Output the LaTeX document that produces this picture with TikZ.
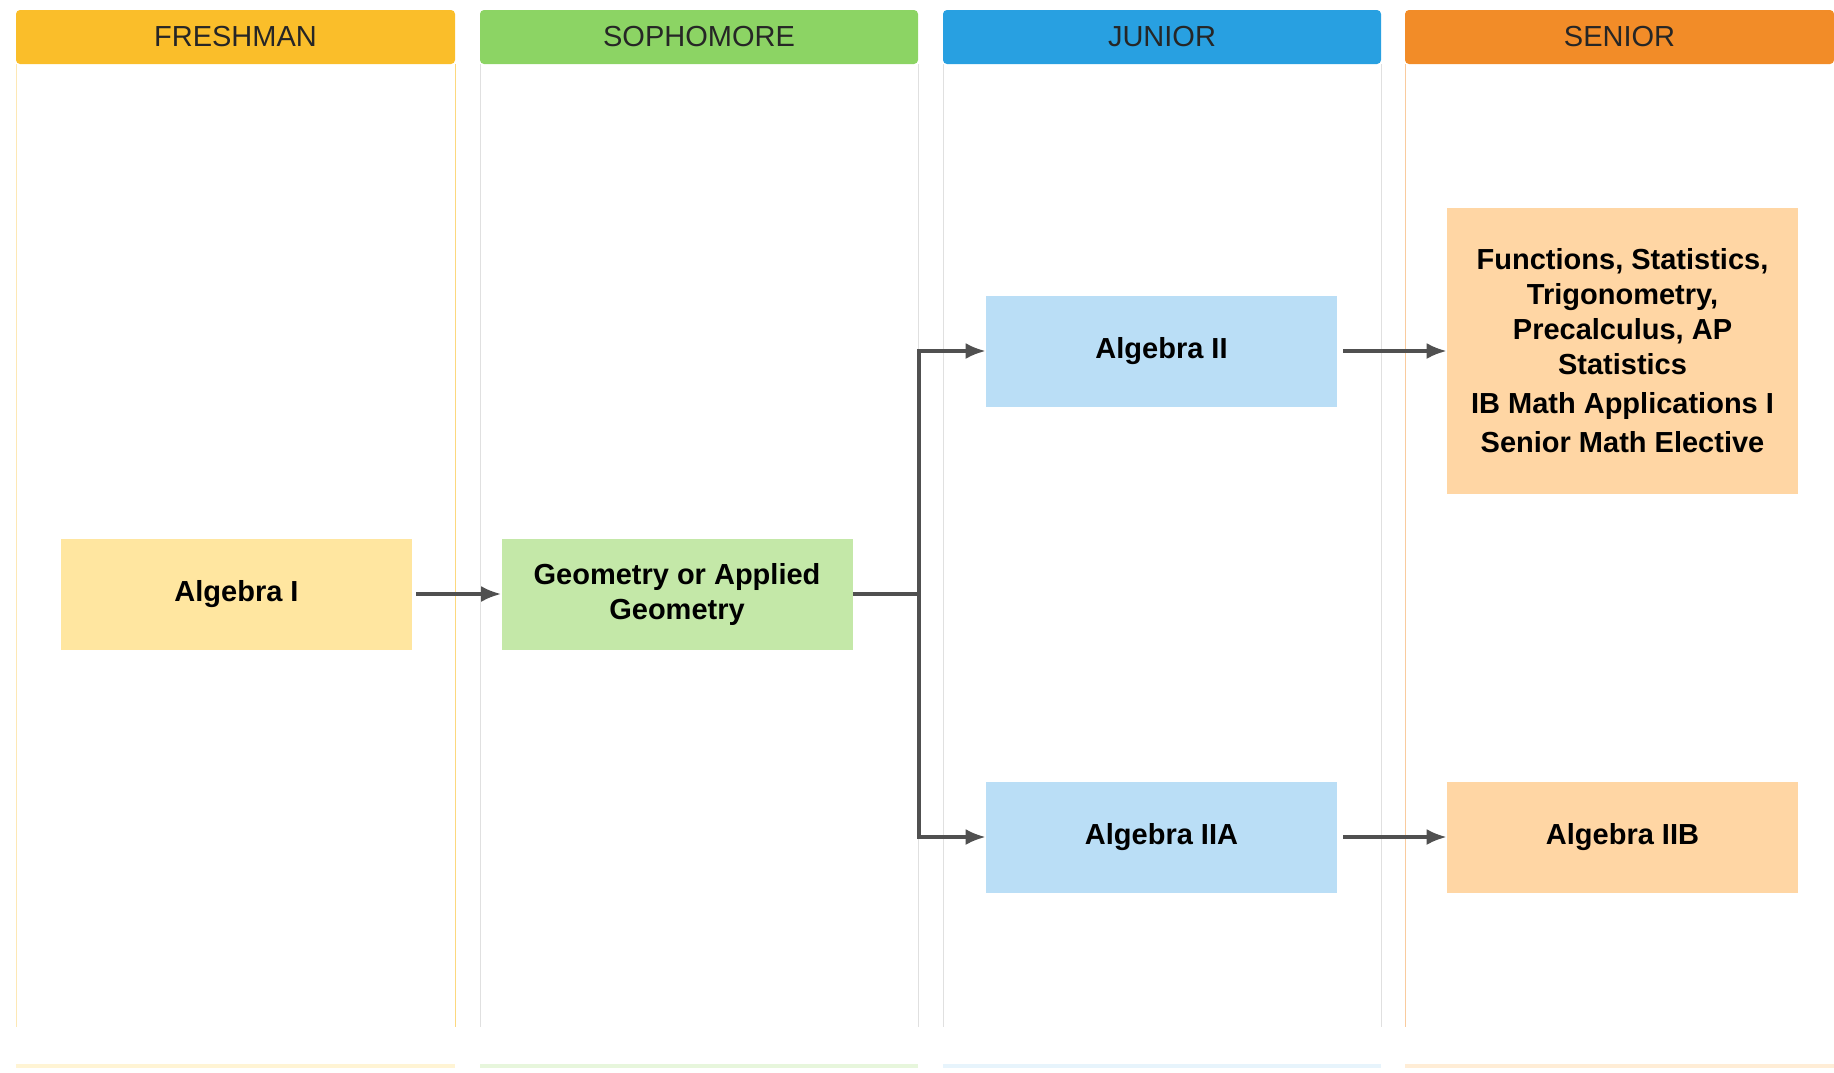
\documentclass[tikz,border=0pt]{standalone}
\usepackage{fontspec}
\setmainfont{Liberation Sans}
\usetikzlibrary{arrows.meta}
\definecolor{freshcol}{RGB}{250, 190, 42}
\definecolor{sophcol}{RGB}{140, 212, 100}
\definecolor{juncol}{RGB}{40, 160, 225}
\definecolor{sencol}{RGB}{242, 140, 40}
\definecolor{freshbox}{RGB}{255, 230, 160}
\definecolor{sophbox}{RGB}{196, 232, 168}
\definecolor{junbox}{RGB}{186, 222, 246}
\definecolor{senbox}{RGB}{255, 214, 164}
\definecolor{linkcol}{RGB}{80, 80, 80}

\begin{document}
\begin{tikzpicture}[x = 0.5pt, y = -0.5pt,
  header/.style = {minimum height = 27pt, inner sep = 0pt, font = \fontsize{14.5}{17}\selectfont, text = black!85},
  course/.style = {minimum width = 175.5pt, minimum height = 55.5pt, inner sep = 2pt, align = center, font = \bfseries\fontsize{14.5}{17.5}\selectfont},
  link/.style = {line width = 1.6pt, linkcol, -{Latex[length = 10pt, width = 8pt]}},
  lane/.style = {line width = 0.5pt}]

\useasboundingbox (0, 0) rectangle (1834, 1072);

\draw [lane, freshcol!35] (16, 64) -- (16, 1027);
\draw [lane, freshcol!60] (455, 64) -- (455, 1027);
\draw [lane, black!12] (480, 64) -- (480, 1027);
\draw [lane, black!12] (918, 64) -- (918, 1027);
\draw [lane, black!12] (943, 64) -- (943, 1027);
\draw [lane, black!12] (1381, 64) -- (1381, 1027);
\draw [lane, sencol!45] (1405, 64) -- (1405, 1027);
\draw [line width = 2pt, freshbox!45] (16, 1066) -- (455, 1066);
\draw [line width = 2pt, sophbox!40] (480, 1066) -- (918, 1066);
\draw [line width = 2pt, junbox!35] (943, 1066) -- (1381, 1066);
\draw [line width = 2pt, senbox!45] (1405, 1066) -- (1834, 1066);

\node [header, fill = freshcol, minimum width = 219.5pt, rounded corners = 2pt] (fresh) at (235.5, 37) {FRESHMAN};
\node [header, fill = sophcol, minimum width = 219pt, rounded corners = 2pt] (soph) at (699, 37) {SOPHOMORE};
\node [header, fill = juncol, minimum width = 219pt, rounded corners = 2pt] (jun) at (1162, 37) {JUNIOR};
\node [header, fill = sencol, minimum width = 214.5pt, rounded corners = 2pt] (sen) at (1619.5, 37) {SENIOR};

\node [course, fill = freshbox] (alg1) at (236.5, 594) {Algebra I};
\node [course, fill = sophbox] (geo) at (677, 594) {Geometry or Applied\\Geometry};
\node [course, fill = junbox] (alg2) at (1161.5, 351) {Algebra II};
\node [course, fill = junbox] (alg2a) at (1161.5, 837) {Algebra IIA};
\node [course, fill = senbox, minimum height = 143pt] (func) at (1622.5, 351)
  {Functions, Statistics,\\Trigonometry,\\Precalculus, AP\\Statistics\\[2pt]IB Math Applications I\\[2pt]Senior Math Elective};
\node [course, fill = senbox] (alg2b) at (1622.5, 837) {Algebra IIB};

\coordinate (split) at (919, 594);
\draw [link, shorten <= 2pt] (alg1) -- (geo);
\draw [line width = 1.6pt, linkcol] (geo.east) -- (split);
\draw [link] (split) |- (alg2.west);
\draw [link] (split) |- (alg2a.west);
\draw [link, shorten <= 3pt] (alg2) -- (func);
\draw [link, shorten <= 3pt] (alg2a) -- (alg2b);

\end{tikzpicture}
\end{document}
